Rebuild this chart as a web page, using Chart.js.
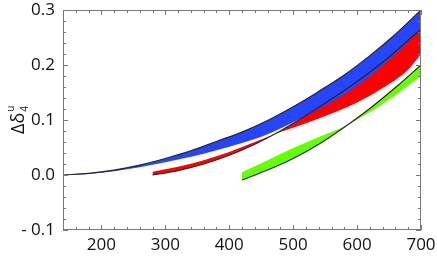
<!DOCTYPE html>
<html>
<head>
<meta charset="utf-8">
<script src="https://cdn.jsdelivr.net/npm/chart.js@4.4.1/dist/chart.umd.min.js"></script>
<style>
    html, body { margin: 0; padding: 0; background: #fff; overflow: hidden; }
    #wrap { width: 437px; height: 258px; }
</style>
</head>
<body>
<div id="wrap"><canvas id="deltaChart"></canvas></div>
<script>
// ===========================
// Data
// ===========================

const blueX = [140, 180, 220, 260, 300, 340, 380, 420, 460, 500, 540, 580, 620, 660, 700];
const blueTop = [0, 0.003, 0.009, 0.018, 0.030, 0.044, 0.061, 0.078, 0.099, 0.124, 0.152, 0.182, 0.217, 0.256, 0.300];
const blueLow = [0, 0.002, 0.007, 0.014, 0.023, 0.033, 0.045, 0.058, 0.074, 0.096, 0.120, 0.147, 0.180, 0.220, 0.265];

const redX = [280, 320, 360, 400, 440, 480, 520, 560, 600, 640, 680, 700];
const redLine = [0, 0.008, 0.020, 0.036, 0.056, 0.080, 0.108, 0.138, 0.170, 0.205, 0.245, 0.265];
const redOther = [0.006, 0.015, 0.027, 0.042, 0.060, 0.078, 0.094, 0.112, 0.132, 0.158, 0.192, 0.220];

const greenX = [420, 460, 500, 540, 580, 620, 660, 700];
const greenLine = [-0.009, 0.009, 0.030, 0.056, 0.087, 0.121, 0.159, 0.200];
const greenOther = [0.005, 0.027, 0.049, 0.069, 0.088, 0.114, 0.145, 0.180];

const xTicks = [200, 300, 400, 500, 600, 700];
const yTicks = [-0.1, 0.0, 0.1, 0.2, 0.3];

const BLUE = '#2545ff';
const RED = '#ff0000';
const GREEN = '#66ff00';
const LINE = '#262626';
const FRAME = '#7a7a7a';

function pts(xs, ys) {
    return xs.map((x, i) => ({ x: x, y: ys[i] }));
}

function lineSet(xs, ys) {
    return {
        data: pts(xs, ys),
        borderColor: LINE,
        borderWidth: 1.2,
        pointRadius: 0,
        fill: false,
        cubicInterpolationMode: 'monotone'
    };
}

function edgeSet(xs, ys, fillTarget, color) {
    return {
        data: pts(xs, ys),
        borderWidth: 0,
        borderColor: 'rgba(0,0,0,0)',
        backgroundColor: color,
        pointRadius: 0,
        fill: fillTarget === null ? false : { target: fillTarget },
        cubicInterpolationMode: 'monotone'
    };
}

// ===========================
// Frame, inward ticks, y title
// ===========================

const framePlugin = {
    id: 'frame',
    afterDraw(chart) {
        const { ctx, chartArea: a, scales } = chart;
        const xs = scales.x, ys = scales.y;
        ctx.save();
        ctx.strokeStyle = FRAME;
        ctx.lineWidth = 1;
        ctx.strokeRect(a.left + 0.5, a.top + 0.5, a.right - a.left - 1, a.bottom - a.top - 1);

        ctx.beginPath();
        for (let v = 140; v <= 700; v += 20) {
            const px = Math.round(xs.getPixelForValue(v)) + 0.5;
            const len = (v % 100 === 0) ? 5 : 3;
            ctx.moveTo(px, a.bottom); ctx.lineTo(px, a.bottom - len);
            ctx.moveTo(px, a.top); ctx.lineTo(px, a.top + len);
        }
        for (let k = -5; k <= 15; k++) {
            const py = Math.round(ys.getPixelForValue(k * 0.02)) + 0.5;
            const len = (k % 5 === 0) ? 5 : 3;
            ctx.moveTo(a.left, py); ctx.lineTo(a.left + len, py);
            ctx.moveTo(a.right, py); ctx.lineTo(a.right - len, py);
        }
        ctx.stroke();

        // y title: Δδ with sub 4 and sup u, rotated
        ctx.translate(18, 134);
        ctx.rotate(-Math.PI / 2);
        ctx.fillStyle = '#111';
        ctx.textBaseline = 'alphabetic';
        ctx.font = '18px "Open Sans"';
        ctx.fillText('Δδ', 0, 6);
        const w = ctx.measureText('Δδ').width;
        ctx.font = '10px "Open Sans"';
        ctx.fillText('4', w + 1, 10);
        ctx.fillText('u', w + 1, -4);
        ctx.restore();
    }
};

const ctx = document.getElementById('deltaChart');

new Chart(ctx, {
    type: 'line',
    data: {
        datasets: [
            lineSet(blueX, blueTop),
            lineSet(redX, redLine),
            lineSet(greenX, greenLine),
            edgeSet(blueX, blueLow, null, BLUE),
            edgeSet(blueX, blueTop, 3, BLUE),
            edgeSet(redX, redOther, null, RED),
            edgeSet(redX, redLine, 5, RED),
            edgeSet(greenX, greenOther, null, GREEN),
            edgeSet(greenX, greenLine, 7, GREEN)
        ]
    },
    options: {
        responsive: true,
        maintainAspectRatio: false,
        animation: false,
        layout: { padding: { left: 0, right: 16, top: 10, bottom: 0 } },
        plugins: {
            legend: { display: false },
            tooltip: { enabled: false }
        },
        scales: {
            x: {
                type: 'linear',
                min: 140,
                max: 700,
                grid: { display: false, drawTicks: false },
                border: { display: false },
                afterBuildTicks: (s) => { s.ticks = xTicks.map(v => ({ value: v })); },
                afterFit: (s) => { s.height = 28; s.paddingRight = 0; s.paddingLeft = 0; },
                ticks: {
                    padding: 5,
                    color: '#111',
                    font: { family: 'Open Sans', size: 17 },
                    maxRotation: 0,
                    callback: (v) => String(v)
                }
            },
            y: {
                type: 'linear',
                min: -0.1,
                max: 0.3,
                grid: { display: false, drawTicks: false },
                border: { display: false },
                afterBuildTicks: (s) => { s.ticks = yTicks.map(v => ({ value: v })); },
                afterFit: (s) => { s.width = 63; s.paddingTop = 0; s.paddingBottom = 0; },
                ticks: {
                    padding: 8,
                    color: '#111',
                    font: { family: 'Open Sans', size: 17 },
                    callback: (v) => v < 0 ? '- ' + Math.abs(v).toFixed(1) : v.toFixed(1)
                }
            }
        }
    },
    plugins: [framePlugin]
});
</script>
</body>
</html>
